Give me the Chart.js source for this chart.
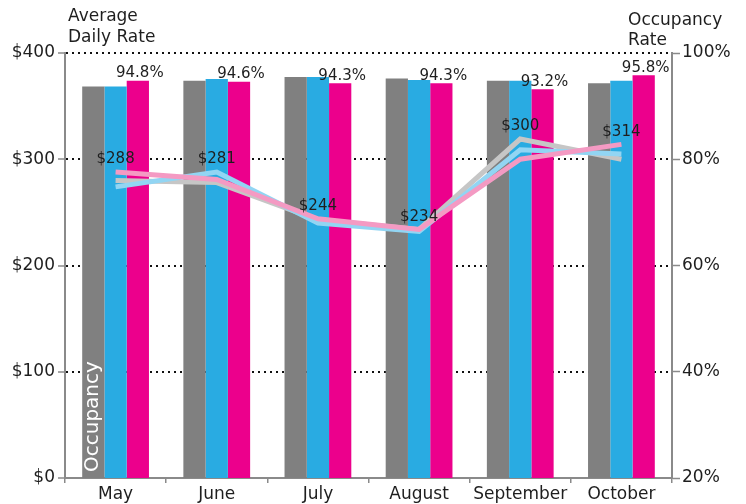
<!DOCTYPE html>
<html>
<head>
<meta charset="utf-8">
<script src="https://cdn.jsdelivr.net/npm/chart.js@4.4.1/dist/chart.umd.min.js"></script>
<style>
  html, body { margin: 0; padding: 0; background: #fff; }
</style>
</head>
<body>
<canvas id="adrChart" width="746" height="504"></canvas>
<script>
const months = ['May', 'June', 'July', 'August', 'September', 'October'];

// occupancy bars (right axis, %)
const occGray = [93.7, 94.8, 95.5, 95.2, 94.8, 94.3];
const occBlue = [93.7, 95.1, 95.5, 94.9, 94.8, 94.8];
const occPink = [94.8, 94.6, 94.3, 94.3, 93.2, 95.8];

// average daily rate lines (left axis, $)
const adrGray = [280, 278, 243, 234, 319, 300];
const adrBlue = [274, 288, 240, 232, 309, 305];
const adrPink = [288, 281, 244, 234, 300, 314];

const leftTicks = [0, 100, 200, 300, 400];
const rightTicks = [20, 40, 60, 80, 100];

const leftTitle = ['Average', 'Daily Rate'];
const rightTitle = ['Occupancy', 'Rate'];
const barNote = 'Occupancy';

const FONT = "'DejaVu Sans', sans-serif";
const TXT = '#1e1e1e';
const AXIS = '#8a8a8a';

const labelsPlugin = {
  id: 'labelsPlugin',
  afterDatasetsDraw(chart) {
    const ctx = chart.ctx;
    const area = chart.chartArea;
    ctx.save();
    ctx.fillStyle = TXT;
    ctx.textAlign = 'center';

    // % labels over the pink bars
    ctx.font = '15px ' + FONT;
    ctx.textBaseline = 'bottom';
    chart.getDatasetMeta(2).data.forEach((bar, i) => {
      ctx.fillText(occPink[i].toFixed(1) + '%', bar.x + 2, bar.y);
    });

    // $ labels above the highest line at each month
    const lineMetas = [3, 4, 5].map(k => chart.getDatasetMeta(k));
    lineMetas[2].data.forEach((pt, i) => {
      const top = Math.min(...lineMetas.map(m => m.data[i].y));
      ctx.fillText('$' + adrPink[i], pt.x, top - 5);
    });

    // axis titles
    ctx.font = '17px ' + FONT;
    ctx.textBaseline = 'alphabetic';
    ctx.textAlign = 'left';
    ctx.fillText(leftTitle[0], 68, 21);
    ctx.fillText(leftTitle[1], 68, 42);
    ctx.fillText(rightTitle[0], 628, 25);
    ctx.fillText(rightTitle[1], 628, 45);

    // vertical note inside first gray bar
    const g = chart.getDatasetMeta(0).data[0];
    ctx.translate(g.x + 5, area.bottom - 6);
    ctx.rotate(-Math.PI / 2);
    ctx.fillStyle = '#ffffff';
    ctx.font = '20px ' + FONT;
    ctx.fillText(barNote, 0, 0);
    ctx.restore();
  }
};

const ctx = document.getElementById('adrChart').getContext('2d');
const adrChart = new Chart(ctx, {
  type: 'bar',
  data: {
    labels: months,
    datasets: [
      { type: 'bar', data: occGray, backgroundColor: '#808080', yAxisID: 'y1', order: 2 },
      { type: 'bar', data: occBlue, backgroundColor: '#29abe2', yAxisID: 'y1', order: 2 },
      { type: 'bar', data: occPink, backgroundColor: '#ec008c', yAxisID: 'y1', order: 2 },
      { type: 'line', data: adrGray, borderColor: '#c6c6c6', borderWidth: 5, pointRadius: 0, yAxisID: 'y', order: 1, tension: 0 },
      { type: 'line', data: adrBlue, borderColor: '#92d5f3', borderWidth: 5, pointRadius: 0, yAxisID: 'y', order: 0.5, tension: 0 },
      { type: 'line', data: adrPink, borderColor: '#f49ac3', borderWidth: 5, pointRadius: 0, yAxisID: 'y', order: 0, tension: 0 }
    ]
  },
  options: {
    responsive: false,
    animation: false,
    devicePixelRatio: 1,
    layout: { padding: { top: 53, left: 0, right: 0, bottom: 0 } },
    datasets: { bar: { categoryPercentage: 0.66, barPercentage: 1.0 } },
    plugins: { legend: { display: false }, tooltip: { enabled: false } },
    scales: {
      x: {
        offset: true,
        border: { color: AXIS, width: 2 },
        grid: { drawOnChartArea: false, color: AXIS, tickLength: 5, lineWidth: 1.5 },
        ticks: { color: TXT, font: { family: FONT, size: 17 }, padding: 1, maxRotation: 0 },
        afterFit(s) { s.height = 26; }
      },
      y: {
        position: 'left',
        min: 0, max: 400,
        afterBuildTicks(s) { s.ticks = leftTicks.map(v => ({ value: v })); },
        border: { color: AXIS, width: 2, dash: [2, 4] },
        grid: {
          color: c => c.tick && c.tick.value === 0 ? 'rgba(0,0,0,0)' : '#111',
          lineWidth: 2,
          tickColor: AXIS,
          tickBorderDash: [],
          tickLength: 7,
          tickWidth: 1.5
        },
        ticks: { color: TXT, font: { family: FONT, size: 17 }, padding: 3, callback: v => '$' + v },
        afterFit(s) { s.width = 65; }
      },
      y1: {
        position: 'right',
        min: 20, max: 100,
        afterBuildTicks(s) { s.ticks = rightTicks.map(v => ({ value: v })); },
        border: { color: AXIS, width: 2 },
        grid: { drawOnChartArea: false, tickColor: AXIS, tickLength: 8, tickWidth: 1.5 },
        ticks: { color: TXT, font: { family: FONT, size: 17 }, padding: 2, callback: v => v + '%' },
        afterFit(s) { s.width = 74; }
      }
    }
  },
  plugins: [labelsPlugin]
});
</script>
</body>
</html>
